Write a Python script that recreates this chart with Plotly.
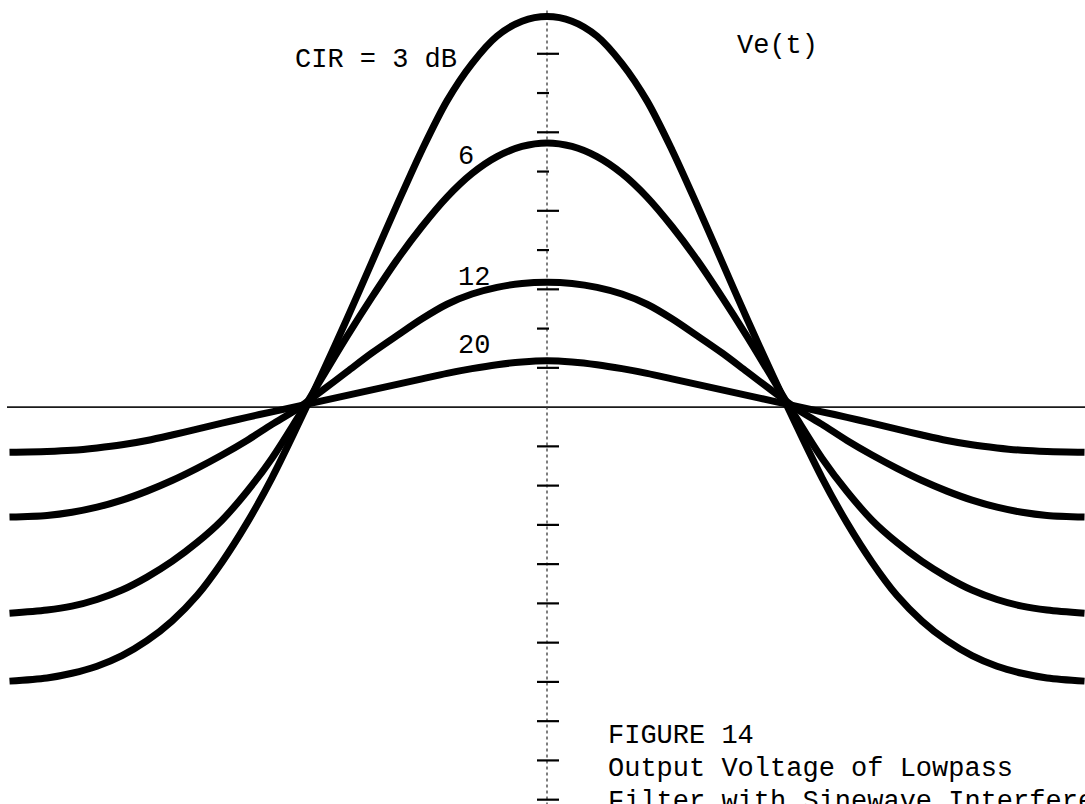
import plotly.graph_objects as go

# Time axis (arbitrary units, pulse centred at t = 0)
t = [-21.5, -20, -19, -18, -17, -16, -15, -14, -13, -12, -11, -10, -9, -8, -7, -6, -5, -4, -3, -2, -1,
     0, 1, 2, 3, 4, 5, 6, 7, 8, 9, 10, 11, 12, 13, 14, 15, 16, 17, 18, 19, 20, 21.5]

# Output voltage Ve(t) for each carrier-to-interference ratio
ve_3db = [-6.98, -6.9, -6.78, -6.6, -6.33, -5.95, -5.45, -4.8, -3.95, -2.95, -1.8, -0.5, 0.85, 2.25, 3.7, 5.15, 6.55, 7.8, 8.75, 9.45, 9.83,
          9.95, 9.83, 9.45, 8.75, 7.8, 6.55, 5.15, 3.7, 2.25, 0.85, -0.5, -1.8, -2.95, -3.95, -4.8, -5.45, -5.95, -6.33, -6.6, -6.78, -6.9, -6.98]
ve_6db = [-5.25, -5.17, -5.07, -4.9, -4.66, -4.33, -3.93, -3.45, -2.88, -2.15, -1.3, -0.3, 0.75, 1.8, 2.8, 3.75, 4.6, 5.35, 5.95, 6.38, 6.64,
          6.73, 6.64, 6.38, 5.95, 5.35, 4.6, 3.75, 2.8, 1.8, 0.75, -0.3, -1.3, -2.15, -2.88, -3.45, -3.93, -4.33, -4.66, -4.9, -5.07, -5.17, -5.25]
ve_12db = [-2.8, -2.76, -2.68, -2.55, -2.37, -2.14, -1.87, -1.56, -1.22, -0.85, -0.44, -0.05, 0.42, 0.9, 1.38, 1.82, 2.25, 2.62, 2.88, 3.05, 3.15,
           3.18, 3.15, 3.05, 2.88, 2.62, 2.25, 1.82, 1.38, 0.9, 0.42, -0.05, -0.44, -0.85, -1.22, -1.56, -1.87, -2.14, -2.37, -2.55, -2.68, -2.76, -2.8]
ve_20db = [-1.15, -1.13, -1.1, -1.04, -0.96, -0.85, -0.71, -0.56, -0.41, -0.26, -0.12, 0.02, 0.16, 0.3, 0.44, 0.58, 0.72, 0.86, 0.98, 1.08, 1.15,
           1.18, 1.15, 1.08, 0.98, 0.86, 0.72, 0.58, 0.44, 0.3, 0.16, 0.02, -0.12, -0.26, -0.41, -0.56, -0.71, -0.85, -0.96, -1.04, -1.1, -1.13, -1.15]

series = [ve_3db, ve_6db, ve_12db, ve_20db]

# Curve labels (CIR in dB)
curve_labels = ["CIR = 3 dB", "6", "12", "20"]
label_t = [-6.84, -3.24, -2.92, -2.92]
label_v = [8.84, 6.37, 3.29, 1.55]

# Tick marks on the vertical axis
tick_values = [-10, -9, -8, -7, -6, -5, -4, -3, -2, -1, 1, 2, 3, 4, 5, 6, 7, 8, 9]

caption_lines = ["FIGURE 14", "Output Voltage of Lowpass", "Filter with Sinewave Interference"]

FONT = "Liberation Mono"
INK = "#000000"

fig = go.Figure()

for v in series:
    fig.add_trace(go.Scatter(
        x=t, y=v, mode="lines",
        line=dict(color=INK, width=7, shape="spline", smoothing=0.9),
        hoverinfo="skip", showlegend=False,
    ))

shapes = []
# horizontal time axis
shapes.append(dict(type="line", xref="x", yref="y", x0=-21.6, x1=21.6, y0=0, y1=0,
                   line=dict(color="#1a1a1a", width=1.6), layer="below"))
# vertical voltage axis (dotted)
shapes.append(dict(type="line", xref="x", yref="y", x0=0, x1=0, y0=10.1, y1=-10.3,
                   line=dict(color="#3a3a3a", width=1.3, dash="dot"), layer="below"))
# ticks: odd positive and all negative ones cross the axis, even positive ones sit on the left
for tv in tick_values:
    right = 12 if (tv < 0 or tv % 2 == 1) else 2
    shapes.append(dict(type="line", xref="x", yref="y", xsizemode="pixel", xanchor=0,
                       x0=-10, x1=right, y0=tv, y1=tv,
                       line=dict(color=INK, width=2.2), layer="below"))

annotations = []
for txt, lt, lv in zip(curve_labels, label_t, label_v):
    annotations.append(dict(x=lt, y=lv, xref="x", yref="y", text=txt, showarrow=False,
                            xanchor="center", yanchor="middle",
                            font=dict(family=FONT, size=27, color=INK)))

annotations.append(dict(x=7.52, y=9.2, xref="x", yref="y", text="Ve(t)", showarrow=False,
                        xanchor="left", yanchor="middle",
                        font=dict(family=FONT, size=27, color=INK)))

caption_v = [-8.37, -9.21, -10.05]
for line, cv in zip(caption_lines, caption_v):
    annotations.append(dict(x=2.36, y=cv, xref="x", yref="y", text=line, showarrow=False,
                            xanchor="left", yanchor="middle",
                            font=dict(family=FONT, size=27, color=INK)))

fig.update_layout(
    width=1085, height=804,
    margin=dict(l=0, r=0, t=0, b=0),
    paper_bgcolor="white", plot_bgcolor="white",
    xaxis=dict(range=[-21.88, 21.52], visible=False, fixedrange=True),
    yaxis=dict(range=[-10.11, 10.37], visible=False, fixedrange=True),
    shapes=shapes, annotations=annotations,
    showlegend=False,
)

fig.write_html("out.html")
